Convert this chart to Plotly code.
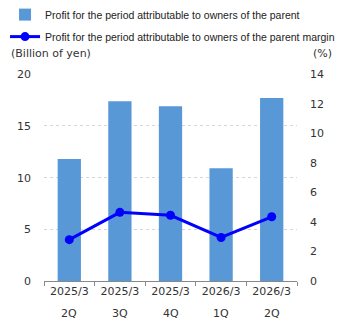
import plotly.graph_objects as go

periods = ["2025/3", "2025/3", "2025/3", "2026/3", "2026/3"]
quarters = ["2Q", "3Q", "4Q", "1Q", "2Q"]
profit = [11.8, 17.4, 16.9, 10.9, 17.7]          # Billion of yen
margin = [2.8, 4.65, 4.45, 2.95, 4.35]           # %

pos = list(range(len(periods)))
bounds = [p - 0.5 for p in pos] + [pos[-1] + 0.5]
name_bar = "Profit for the period attributable to owners of the parent"
name_line = "Profit for the period attributable to owners of the parent margin"

tick_font = dict(family="DejaVu Sans", size=11, color="#333333")

fig = go.Figure()
fig.add_trace(go.Bar(
    x=pos, y=profit, name=name_bar, legendgroup="bar",
    marker=dict(color="#5898d7", line=dict(width=0)),
    width=0.46,
))
fig.add_trace(go.Scatter(
    x=pos, y=margin, name=name_line, yaxis="y2", legendgroup="line",
    mode="lines+markers",
    line=dict(color="#0000ff", width=3),
    marker=dict(color="#0000ff", size=9),
))

# second row of category labels (quarter)
for p, q in zip(pos, quarters):
    fig.add_annotation(x=p, xref="x", y=-0.155, yref="paper", text=q,
                       showarrow=False, font=tick_font, yanchor="middle")

fig.add_annotation(x=-0.14, xref="paper", xanchor="left", y=1.1, yref="paper",
                   yanchor="middle", text="(Billion of yen)", showarrow=False,
                   font=tick_font)
fig.add_annotation(x=1.145, xref="paper", xanchor="right", y=1.1, yref="paper",
                   yanchor="middle", text="(%)", showarrow=False, font=tick_font)

fig.update_layout(
    width=345, height=330,
    margin=dict(l=44, r=48, t=74, b=49, autoexpand=False),
    paper_bgcolor="white", plot_bgcolor="white",
    showlegend=True,
    legend=dict(x=-0.154, y=1.357, xanchor="left", yanchor="top",
                font=dict(family="Liberation Sans", size=10.5, color="#222222"),
                bgcolor="rgba(0,0,0,0)", tracegroupgap=3, itemwidth=30),
    xaxis=dict(
        range=[-0.5, len(pos) - 0.5],
        tickmode="array", tickvals=pos, ticktext=periods,
        ticks="", showline=True, linecolor="#888888", linewidth=1,
        tickfont=tick_font, showgrid=False, zeroline=False,
        minor=dict(tickmode="array", tickvals=bounds, ticks="outside",
                   ticklen=4, tickcolor="#888888", showgrid=False),
    ),
    yaxis=dict(
        range=[0, 20.03], tick0=0, dtick=5, tickfont=tick_font,
        showgrid=True, gridcolor="#d6d6d6", griddash="3px,3px", gridwidth=1,
        zeroline=False, ticklabelstandoff=12, showline=False,
    ),
    yaxis2=dict(
        range=[0, 14.021], tick0=0, dtick=2, tickfont=tick_font,
        overlaying="y", side="right", showgrid=False, zeroline=False,
        ticklabelstandoff=12,
    ),
)

fig.write_html("out.html")
